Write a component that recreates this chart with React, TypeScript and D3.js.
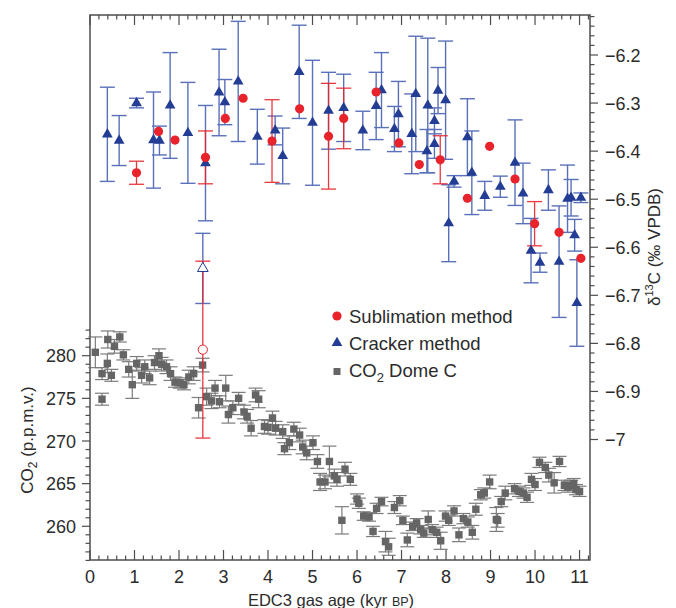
import React, { useEffect, useRef } from 'react'
import * as d3 from 'd3'

// δ13C, sublimation method: [age kyr, value ‰, error]
const sublimation: number[][] = [
  [1.045, -6.445, 0.024], [1.54, -6.359, 0], [1.91, -6.377, 0], [2.595, -6.413, 0.055],
  [3.04, -6.332, 0], [3.44, -6.29, 0], [4.09, -6.379, 0.086], [4.71, -6.312, 0],
  [5.36, -6.369, 0.11], [5.70, -6.332, 0.063], [6.43, -6.277, 0], [6.94, -6.383, 0],
  [7.40, -6.428, 0], [7.87, -6.418, 0.05], [8.48, -6.498, 0], [8.98, -6.39, 0],
  [9.55, -6.458, 0], [9.99, -6.551, 0.046], [10.54, -6.569, 0], [11.03, -6.623, 0]
]
const sublimationOpen: number[][] = [[2.535, -6.813, 0.184]]

// δ13C, cracker method
const cracker: number[][] = [
  [0.39, -6.365, 0.098], [0.655, -6.378, 0.052], [1.045, -6.30, 0.01], [1.427, -6.377, 0.10],
  [1.56, -6.378, 0.03], [1.80, -6.305, 0.11], [2.20, -6.362, 0.105], [2.595, -6.425, 0.12],
  [2.90, -6.278, 0.09], [3.03, -6.298, 0.047], [3.33, -6.255, 0.125], [3.76, -6.37, 0.057],
  [4.16, -6.357, 0.03], [4.33, -6.41, 0.058], [4.70, -6.235, 0.097], [5.00, -6.341, 0.13],
  [5.36, -6.316, 0.08], [5.70, -6.31, 0.07], [6.13, -6.357, 0.04], [6.43, -6.306, 0.07],
  [6.55, -6.273, 0.078], [6.84, -6.354, 0.047], [6.93, -6.323, 0.068], [7.23, -6.364, 0.083],
  [7.32, -6.281, 0.12], [7.57, -6.40, 0.045], [7.59, -6.305, 0.14], [7.74, -6.337, 0.027],
  [7.74, -6.385, 0.03], [7.82, -6.274, 0.048], [7.99, -6.294, 0.123], [8.06, -6.55, 0.08],
  [8.18, -6.463, 0.012], [8.48, -6.371, 0.08], [8.58, -6.445, 0.087], [8.87, -6.493, 0.03],
  [9.22, -6.474, 0.022], [9.55, -6.424, 0.089], [9.73, -6.488, 0.063], [9.91, -6.607, 0.067],
  [10.11, -6.632, 0.02], [10.30, -6.481, 0.042], [10.54, -6.63, 0.116], [10.73, -6.499, 0.07],
  [10.81, -6.497, 0.038], [10.89, -6.575, 0.033], [10.94, -6.716, 0.09], [11.03, -6.497, 0.01]
]
const crackerOpen: number[][] = [[2.535, -6.644, 0.073]]

// CO2 Dome C: [age kyr, ppmv, error]
const co2: number[][] = [
  [0.12, 280.4, 1.8], [0.27, 274.9, 0.7], [0.27, 277.9, 0.7], [0.40, 281.9, 1.0], [0.39, 279.1, 1.1],
  [0.48, 277.7, 0.7], [0.55, 281.1, 0.8], [0.67, 282.2, 0.6], [0.75, 280.1, 0.6], [0.87, 278.4, 0.9],
  [0.95, 276.6, 1.6], [1.05, 279.1, 0.8], [1.16, 277.7, 0.9], [1.23, 278.7, 0.8], [1.34, 277.4, 0.8],
  [1.45, 279.2, 0.8], [1.55, 280.0, 0.8], [1.61, 279.0, 0.8], [1.72, 278.7, 0.8], [1.81, 277.9, 0.8],
  [1.91, 276.9, 0.6], [2.02, 276.8, 0.6], [2.11, 276.6, 0.6], [2.22, 277.5, 0.8], [2.33, 277.9, 0.8],
  [2.44, 273.9, 1.2], [2.53, 278.9, 0.8], [2.62, 275.2, 1.0], [2.73, 274.7, 0.9], [2.81, 276.2, 0.9],
  [2.91, 274.6, 0.7], [3.05, 276.2, 1.5], [3.11, 273.1, 1.0], [3.21, 273.9, 0.8], [3.34, 275.0, 0.7],
  [3.46, 273.4, 0.8], [3.53, 272.9, 0.8], [3.62, 271.5, 0.9], [3.72, 275.4, 0.8], [3.79, 274.9, 1.0],
  [3.92, 271.7, 0.8], [4.00, 271.6, 0.8], [4.10, 272.7, 0.8], [4.17, 271.5, 0.8], [4.33, 271.1, 0.8],
  [4.37, 269.1, 0.7], [4.48, 269.8, 0.8], [4.58, 271.4, 0.8], [4.71, 270.7, 0.8], [4.78, 269.3, 0.8],
  [4.87, 268.6, 0.8], [5.01, 269.8, 0.8], [5.11, 267.6, 0.8], [5.17, 265.2, 1.0], [5.28, 265.2, 0.8],
  [5.38, 267.6, 1.8], [5.49, 265.9, 0.8], [5.55, 265.5, 0.8], [5.66, 260.7, 1.6], [5.73, 266.7, 0.8],
  [5.85, 265.5, 0.7], [6.00, 263.2, 0.6], [6.04, 262.7, 0.6], [6.15, 261.2, 0.5], [6.27, 261.1, 0.5],
  [6.36, 259.4, 0.6], [6.44, 262.1, 0.6], [6.55, 262.9, 0.5], [6.64, 258.2, 1.2], [6.71, 257.6, 1.0],
  [6.84, 262.2, 0.7], [6.96, 263.0, 0.6], [7.03, 260.7, 0.5], [7.13, 258.4, 0.8], [7.25, 260.0, 0.5],
  [7.34, 260.4, 0.5], [7.43, 259.6, 0.5], [7.50, 259.2, 0.5], [7.60, 260.8, 1.0], [7.69, 259.6, 0.6],
  [7.79, 259.3, 0.6], [7.88, 258.3, 1.0], [7.99, 261.2, 0.6], [8.06, 260.7, 0.6], [8.18, 261.8, 0.6],
  [8.29, 259.0, 0.8], [8.39, 260.9, 0.6], [8.49, 260.5, 0.6], [8.59, 259.3, 0.8], [8.67, 262.0, 0.7],
  [8.78, 263.7, 0.6], [8.86, 263.9, 0.6], [8.98, 265.2, 0.8], [9.13, 260.8, 1.4], [9.16, 260.7, 0.8],
  [9.24, 262.9, 0.6], [9.33, 263.9, 0.8], [9.54, 264.4, 0.6], [9.64, 264.1, 0.6], [9.74, 263.9, 0.6],
  [9.82, 263.4, 0.6], [9.92, 265.5, 0.7], [10.00, 264.9, 0.7], [10.10, 267.5, 0.6], [10.23, 266.9, 0.6],
  [10.31, 266.0, 0.8], [10.43, 265.1, 1.2], [10.55, 267.6, 0.6], [10.66, 264.8, 0.6], [10.74, 264.6, 0.6],
  [10.81, 264.8, 0.6], [10.87, 265.0, 0.6], [10.92, 264.3, 0.6], [11.00, 264.1, 0.6]
]

const xTicks = d3.range(0, 12)
const d13Ticks = [-6.2, -6.3, -6.4, -6.5, -6.6, -6.7, -6.8, -6.9, -7]
const co2Ticks = [260, 265, 270, 275, 280]

const FONT = '"Liberation Sans", Arial, Helvetica, sans-serif'
const TEXT = '#2b2b2b'
const FRAME = '#4d4d4d'
const RED = '#e8232b'
const BLUE = '#233d95'
const BLUE_BAR = '#3d58ae'
const GREY = '#656565'

function App() {
  const ref = useRef<SVGSVGElement>(null)

  useEffect(() => {
    const svg = d3.select(ref.current)
    svg.selectAll('*').remove()

    const left = 90, right = 590, top = 15, bottom = 560

    const x = d3.scaleLinear().domain([0, 11.235]).range([left, right])
    const yD = d3.scaleLinear().domain([-6.2, -7.0]).range([55, 439.5])
    const yC = d3.scaleLinear().domain([260, 280]).range([526.3, 355.7])

    const fmt = (v: number) => (v < 0 ? '\u2212' + Math.abs(v) : String(v))

    // frame
    svg.append('rect')
      .attr('x', left).attr('y', top)
      .attr('width', right - left).attr('height', bottom - top)
      .attr('fill', 'none').attr('stroke', FRAME).attr('stroke-width', 1.5)

    const g = svg.append('g').attr('stroke', FRAME).attr('stroke-width', 1.2)

    // top and bottom ticks (inside)
    const ageMinor = d3.range(0, 11.21, 0.2)
    ageMinor.forEach(t => {
      const major = Math.abs(t - Math.round(t)) < 1e-6
      const len = major ? 10 : 4.5
      g.append('line').attr('x1', x(t)).attr('x2', x(t)).attr('y1', top).attr('y2', top + len)
      g.append('line').attr('x1', x(t)).attr('x2', x(t)).attr('y1', bottom).attr('y2', bottom - len)
    })

    // right δ13C ticks (outside)
    d3.range(-6.12, -7.001, -0.02).forEach(t => {
      const major = Math.abs(t * 10 - Math.round(t * 10)) < 1e-6
      g.append('line').attr('x1', right).attr('x2', right + (major ? 8 : 4.5))
        .attr('y1', yD(t)).attr('y2', yD(t))
    })

    // left CO2 ticks (outside)
    d3.range(256, 283.5, 1).forEach(t => {
      const major = t % 5 === 0
      g.append('line').attr('x1', left).attr('x2', left - (major ? 8 : 4.5))
        .attr('y1', yC(t)).attr('y2', yC(t))
    })

    const labels = svg.append('g').attr('font-family', FONT).attr('fill', TEXT).attr('font-size', 18)

    labels.selectAll('.xl').data(xTicks).join('text')
      .attr('x', d => x(d)).attr('y', 583).attr('text-anchor', 'middle').text(d => d)

    labels.selectAll('.dl').data(d13Ticks).join('text')
      .attr('x', 605).attr('y', d => yD(d) + 6.5).text(d => fmt(d))

    labels.selectAll('.cl').data(co2Ticks).join('text')
      .attr('x', 76).attr('y', d => yC(d) + 6.5).attr('text-anchor', 'end').text(d => d)

    // axis titles
    const xt = svg.append('text').attr('font-family', FONT).attr('fill', TEXT).attr('font-size', 16.5)
      .attr('x', 331).attr('y', 606).attr('text-anchor', 'middle')
    xt.append('tspan').text('EDC3 gas age (kyr ')
    xt.append('tspan').attr('font-size', 12.5).text('BP')
    xt.append('tspan').text(')')

    const lt = svg.append('text').attr('font-family', FONT).attr('fill', TEXT).attr('font-size', 17)
      .attr('transform', 'translate(33,440) rotate(-90)').attr('text-anchor', 'middle')
    lt.append('tspan').text('CO')
    lt.append('tspan').attr('font-size', 12).attr('dy', 4).text('2')
    lt.append('tspan').attr('dy', -4).text(' (p.p.m.v.)')

    const rt = svg.append('text').attr('font-family', FONT).attr('fill', TEXT).attr('font-size', 17)
      .attr('transform', 'translate(660,247) rotate(-90)').attr('text-anchor', 'middle')
    rt.append('tspan').text('\u03b4')
    rt.append('tspan').attr('font-size', 11).attr('dy', -7).text('13')
    rt.append('tspan').attr('dy', 7).text('C (\u2030 VPDB)')

    // error bar helper
    const bars = (data: number[][], y: d3.ScaleLinear<number, number>, color: string, width: number, cap: number, opacity = 1) => {
      const bg = svg.append('g').attr('stroke', color).attr('stroke-width', width).attr('opacity', opacity)
      data.filter(d => d[2] > 0).forEach(d => {
        const cx = x(d[0]), y0 = y(d[1] + d[2]), y1 = y(d[1] - d[2])
        bg.append('line').attr('x1', cx).attr('x2', cx).attr('y1', y0).attr('y2', y1)
        bg.append('line').attr('x1', cx - cap).attr('x2', cx + cap).attr('y1', y0).attr('y2', y0)
        bg.append('line').attr('x1', cx - cap).attr('x2', cx + cap).attr('y1', y1).attr('y2', y1)
      })
    }

    // CO2 Dome C
    bars(co2, yC, '#6e6e6e', 1.2, 7, 0.9)
    svg.append('g').selectAll('rect').data(co2).join('rect')
      .attr('x', d => x(d[0]) - 3.7).attr('y', d => yC(d[1]) - 3.7)
      .attr('width', 7.4).attr('height', 7.4).attr('fill', GREY)

    // δ13C cracker + sublimation
    bars(cracker.concat(crackerOpen), yD, BLUE_BAR, 1.4, 7.5, 0.85)
    bars(sublimation.concat(sublimationOpen), yD, RED, 1.3, 7.5, 0.9)

    const tri = d3.symbol().type(d3.symbolTriangle).size(50)
    svg.append('g').selectAll('path').data(cracker).join('path')
      .attr('d', tri).attr('transform', d => `translate(${x(d[0])},${yD(d[1])})`).attr('fill', BLUE)
    svg.append('g').selectAll('path').data(crackerOpen).join('path')
      .attr('d', tri).attr('transform', d => `translate(${x(d[0])},${yD(d[1])})`)
      .attr('fill', 'white').attr('stroke', BLUE).attr('stroke-width', 1)

    svg.append('g').selectAll('circle').data(sublimation).join('circle')
      .attr('cx', d => x(d[0])).attr('cy', d => yD(d[1])).attr('r', 4.6).attr('fill', RED)
    svg.append('g').selectAll('circle').data(sublimationOpen).join('circle')
      .attr('cx', d => x(d[0])).attr('cy', d => yD(d[1])).attr('r', 4.6)
      .attr('fill', 'white').attr('stroke', RED).attr('stroke-width', 1)

    // legend
    const legend = svg.append('g').attr('font-family', FONT).attr('fill', TEXT).attr('font-size', 18.5)
    const lx = 337
    legend.append('circle').attr('cx', lx).attr('cy', 316).attr('r', 4.6).attr('fill', RED)
    legend.append('text').attr('x', 349).attr('y', 322.5).text('Sublimation method')
    legend.append('path').attr('d', tri).attr('transform', `translate(${lx},343)`).attr('fill', BLUE)
    legend.append('text').attr('x', 349).attr('y', 349.5).text('Cracker method')
    legend.append('rect').attr('x', lx - 3.5).attr('y', 368).attr('width', 7).attr('height', 7).attr('fill', GREY)
    const lt3 = legend.append('text').attr('x', 349).attr('y', 377)
    lt3.append('tspan').text('CO')
    lt3.append('tspan').attr('font-size', 13).attr('dy', 5).text('2')
    lt3.append('tspan').attr('dy', -5).text(' Dome C')
  }, [])

  return (
    <svg ref={ref} width={676} height={608}
      style={{ position: 'absolute', left: 0, top: 0, display: 'block', background: 'white' }} />
  )
}

export default App
